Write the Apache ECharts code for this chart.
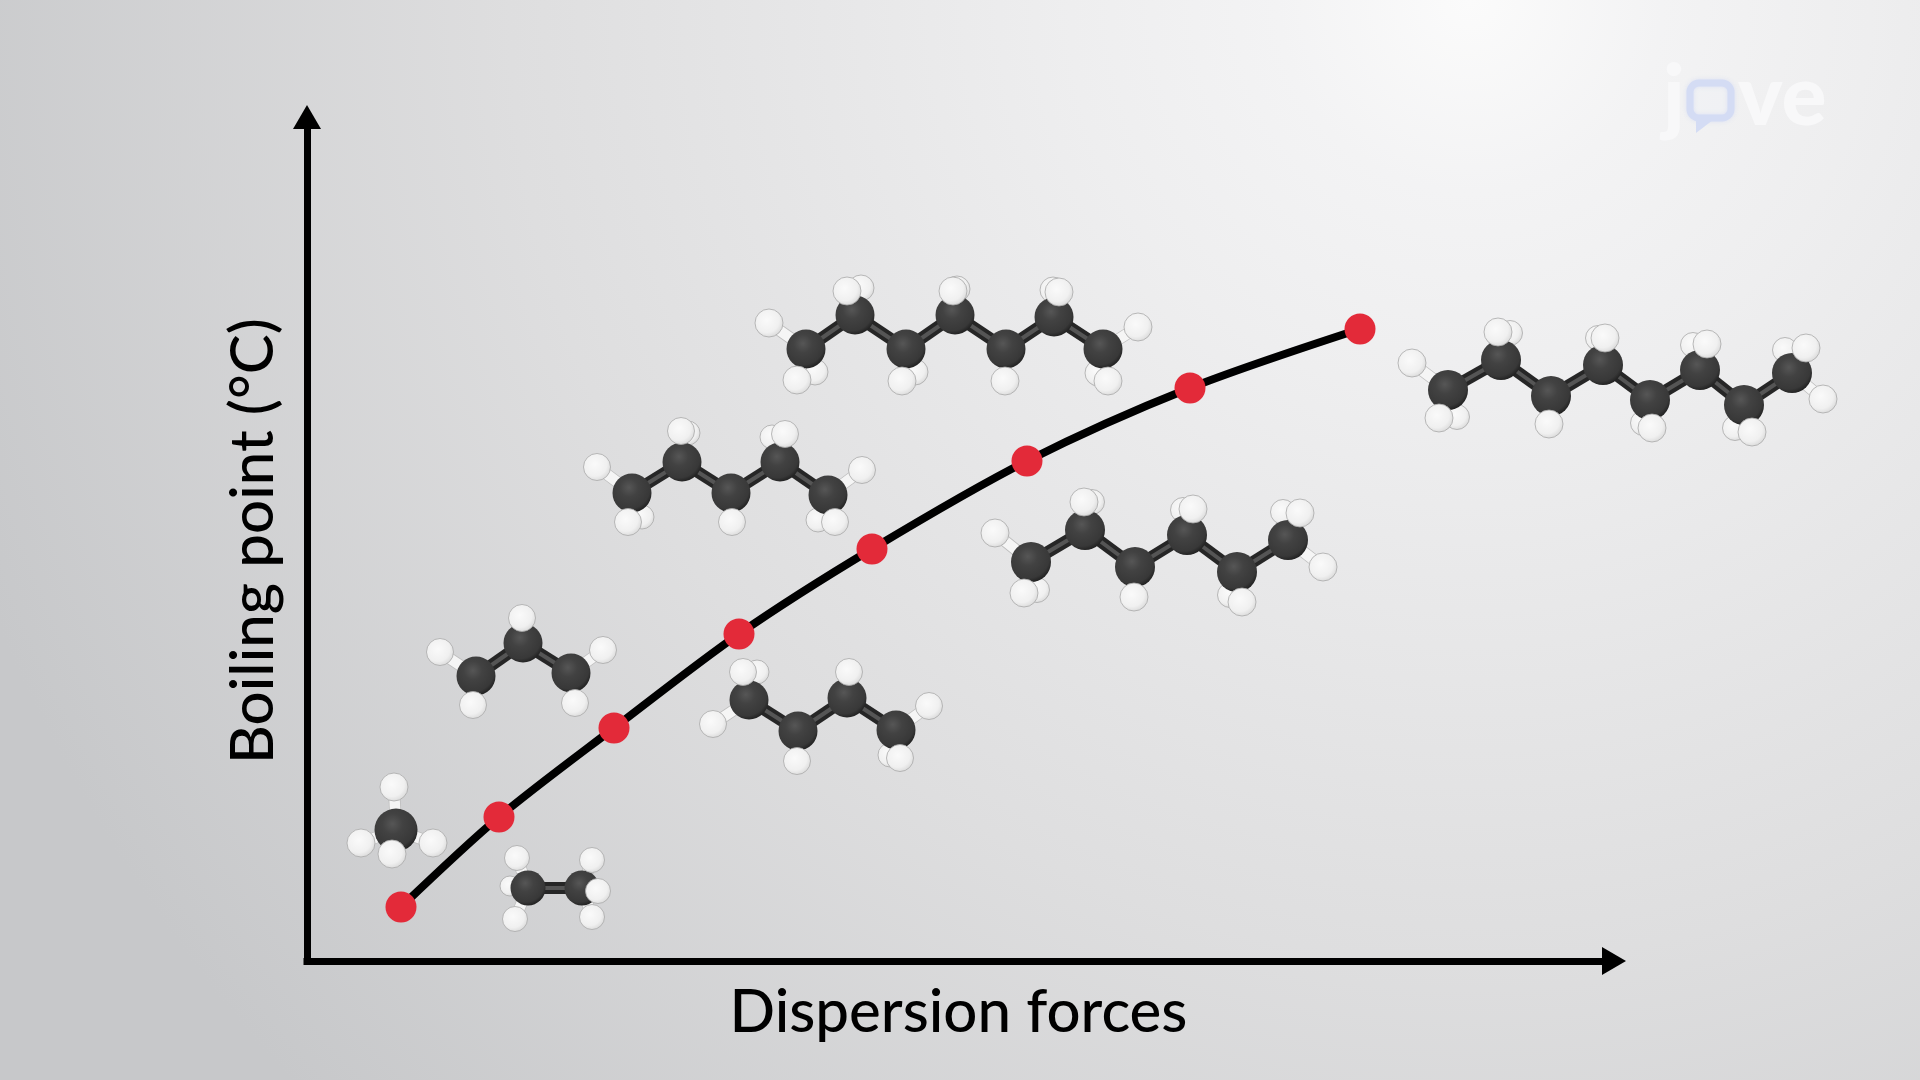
<!DOCTYPE html>
<html><head><meta charset="utf-8">
<style>html,body{margin:0;padding:0;background:#e0e0e0}#c{width:1920px;height:1080px}</style>
<script src="https://cdn.jsdelivr.net/npm/echarts@6/dist/echarts.min.js"></script>
</head><body><div id="c"></div>
<script>
var xAxisTitle = 'Dispersion forces';
var yAxisTitle = 'Boiling point (°C)';
var curvePoints = [[94,54],[192,144],[307,233],[432,327],[565,412],[720,500],[883,573],[1053,632]];

var methaneC = [[89,131]];
var methaneH = [[87,174],[54,118],[126,118],[85,107]];
var methaneHBack = [];

var ethaneC = [[221,73],[275,73]];
var ethaneH = [[210,103],[291,70],[208,42],[285,44],[285,101]];
var ethaneHBack = [[203,75]];

var propaneC = [[169,285],[216,318],[264,288]];
var propaneH = [[133,309],[215,343],[296,311],[166,256],[268,258]];
var propaneHBack = [];

var butaneC = [[442,261],[491,230],[540,263],[589,231]];
var butaneH = [[406,237],[436,289],[490,200],[542,289],[622,255],[593,203]];
var butaneHBack = [[450,289],[583,206]];

var pentaneC = [[325,468],[375,499],[424,468],[473,499],[521,466]];
var pentaneH = [[290,494],[321,439],[374,530],[425,439],[478,527],[555,491],[528,439]];
var pentaneHBack = [[335,444],[381,528],[465,524],[511,441]];

var hexaneC = [[724,399],[778,431],[828,394],[880,426],[930,389],[981,421]];
var hexaneH = [[688,428],[717,368],[777,459],[827,364],[886,452],[935,359],[993,448],[1016,394]];
var hexaneHBack = [[730,371],[785,459],[876,451],[923,366],[976,449]];

var heptaneC = [[499,612],[548,646],[599,612],[648,646],[699,612],[747,644],[796,612]];
var heptaneH = [[462,638],[490,581],[540,670],[595,580],[646,670],[752,669],[698,580],[831,634],[801,580]];
var heptaneHBack = [[508,589],[554,673],[608,589],[650,672],[746,671],[791,588]];

var octaneC = [[1141,571],[1194,601],[1244,565],[1296,596],[1343,561],[1393,591],[1437,556],[1485,588]];
var octaneH = [[1105,598],[1132,543],[1191,629],[1242,537],[1298,623],[1345,533],[1400,617],[1445,529],[1499,613],[1516,562]];
var octaneHBack = [[1150,544],[1203,628],[1291,623],[1336,538],[1386,616],[1428,533],[1478,611]];

var molecules = [
  {c:methaneC,h:methaneH,b:methaneHBack,cs:43,hs:28,bs:22},
  {c:ethaneC,h:ethaneH,b:ethaneHBack,cs:35,hs:25,bs:20},
  {c:propaneC,h:propaneH,b:propaneHBack,cs:39,hs:27,bs:22},
  {c:butaneC,h:butaneH,b:butaneHBack,cs:39,hs:27,bs:24},
  {c:pentaneC,h:pentaneH,b:pentaneHBack,cs:39,hs:27,bs:24},
  {c:hexaneC,h:hexaneH,b:hexaneHBack,cs:40,hs:28,bs:25},
  {c:heptaneC,h:heptaneH,b:heptaneHBack,cs:39,hs:28,bs:26},
  {c:octaneC,h:octaneH,b:octaneHBack,cs:40,hs:28,bs:25}
];

var carbonFill = {type:'radial',x:0.42,y:0.36,r:0.68,colorStops:[
  {offset:0,color:'#565656'},{offset:0.35,color:'#424242'},{offset:0.8,color:'#383838'},{offset:1,color:'#1c1c1c'}]};
var hydrogenFill = {type:'radial',x:0.42,y:0.4,r:0.62,colorStops:[
  {offset:0,color:'#fafafa'},{offset:0.7,color:'#f0f0f0'},{offset:1,color:'#dadada'}]};

function nearest(p, list){
  var best=list[0], d=1e9;
  list.forEach(function(q){var e=(p[0]-q[0])*(p[0]-q[0])+(p[1]-q[1])*(p[1]-q[1]); if(e<d){d=e;best=q;}});
  return best;
}
function segs(m){
  var out=[];
  for(var i=0;i<m.c.length-1;i++) out.push({coords:[m.c[i],m.c[i+1]]});
  return out;
}
function stubs(m){
  return m.h.map(function(p){return {coords:[nearest(p,m.c),p]};});
}
function lineLayer(data,z,color,width){
  return {type:'lines',coordinateSystem:'cartesian2d',data:data,clip:false,silent:true,z:z,animation:false,
    lineStyle:{color:color,width:width,opacity:1,curveness:0}};
}
var series=[];
molecules.forEach(function(m){
  series.push({type:'scatter',data:m.b,symbolSize:m.bs,clip:false,silent:true,z:3,animation:false,
    itemStyle:{color:hydrogenFill,borderColor:'#a8a8a8',borderWidth:0.8,opacity:1}});
  series.push(lineLayer(stubs(m),4,'#bdbdbd',12));
  series.push(lineLayer(stubs(m),4,'#f5f5f5',10.5));
  series.push(lineLayer(segs(m),5,'#262626',12));
  series.push(lineLayer(segs(m),5,'#555555',4));
  series.push({type:'scatter',data:m.c,symbolSize:m.cs,clip:false,silent:true,z:6,animation:false,
    itemStyle:{color:carbonFill,opacity:1}});
  series.push({type:'scatter',data:m.h,symbolSize:m.hs,clip:false,silent:true,z:7,animation:false,
    itemStyle:{color:hydrogenFill,borderColor:'#a8a8a8',borderWidth:0.8,opacity:1}});
});
series.push({type:'line',data:curvePoints,smooth:0.3,showSymbol:true,symbol:'circle',symbolSize:31,clip:false,z:10,animation:false,silent:true,
  lineStyle:{color:'#000000',width:8},itemStyle:{color:'#e32a39',borderWidth:0}});

var axisLine={show:true,onZero:false,symbol:['none','triangle'],symbolSize:[28,24],
  lineStyle:{color:'#000000',width:7,cap:'square'}};

var chart=echarts.init(document.getElementById('c'),null,{renderer:'canvas',width:1920,height:1080});
chart.setOption({
  animation:false,
  backgroundColor:{type:'radial',x:1470,y:0,r:1600,global:true,colorStops:[
    {offset:0,color:'#fbfbfb'},{offset:0.12,color:'#f3f3f4'},{offset:0.25,color:'#eeeeef'},{offset:0.6,color:'#dededf'},{offset:1,color:'#c7c8ca'}]},
  grid:{left:307,top:117,right:306,bottom:119,containLabel:false},
  xAxis:{type:'value',min:0,max:1307,axisLine:axisLine,axisTick:{show:false},axisLabel:{show:false},splitLine:{show:false},
    name:xAxisTitle,nameLocation:'middle',nameGap:22,
    nameTextStyle:{fontFamily:'Lato',fontSize:60,fontWeight:500,color:'#000',padding:[0,4,0,0]}},
  yAxis:{type:'value',min:0,max:844,axisLine:axisLine,axisTick:{show:false},axisLabel:{show:false},splitLine:{show:false},
    name:yAxisTitle,nameLocation:'middle',nameGap:23,nameRotate:90,
    nameTextStyle:{fontFamily:'Lato',fontSize:60,fontWeight:500,color:'#000',padding:[0,4,0,0]}},
  series:series,
  graphic:[
    {type:'text',left:1663,top:56,z:20,silent:true,style:{text:'j',font:'900 84px Lato',fill:'#f8f8f9',shadowBlur:5,shadowColor:'rgba(255,255,255,0.8)'}},
    {type:'rect',shape:{x:1690,y:83,width:41,height:35,r:9},z:20,silent:true,style:{fill:'rgba(255,255,255,0.15)',stroke:'#d4dcf4',lineWidth:7,shadowBlur:4,shadowColor:'rgba(212,220,244,0.8)'}},
    {type:'polygon',shape:{points:[[1696,120],[1713,120],[1696,133]]},z:20,silent:true,style:{fill:'#d4dcf4'}},
    {type:'text',left:1738,top:56,z:20,silent:true,style:{text:'ve',font:'900 84px Lato',fill:'#f8f8f9',shadowBlur:5,shadowColor:'rgba(255,255,255,0.8)'}}
  ]
});
</script></body></html>
